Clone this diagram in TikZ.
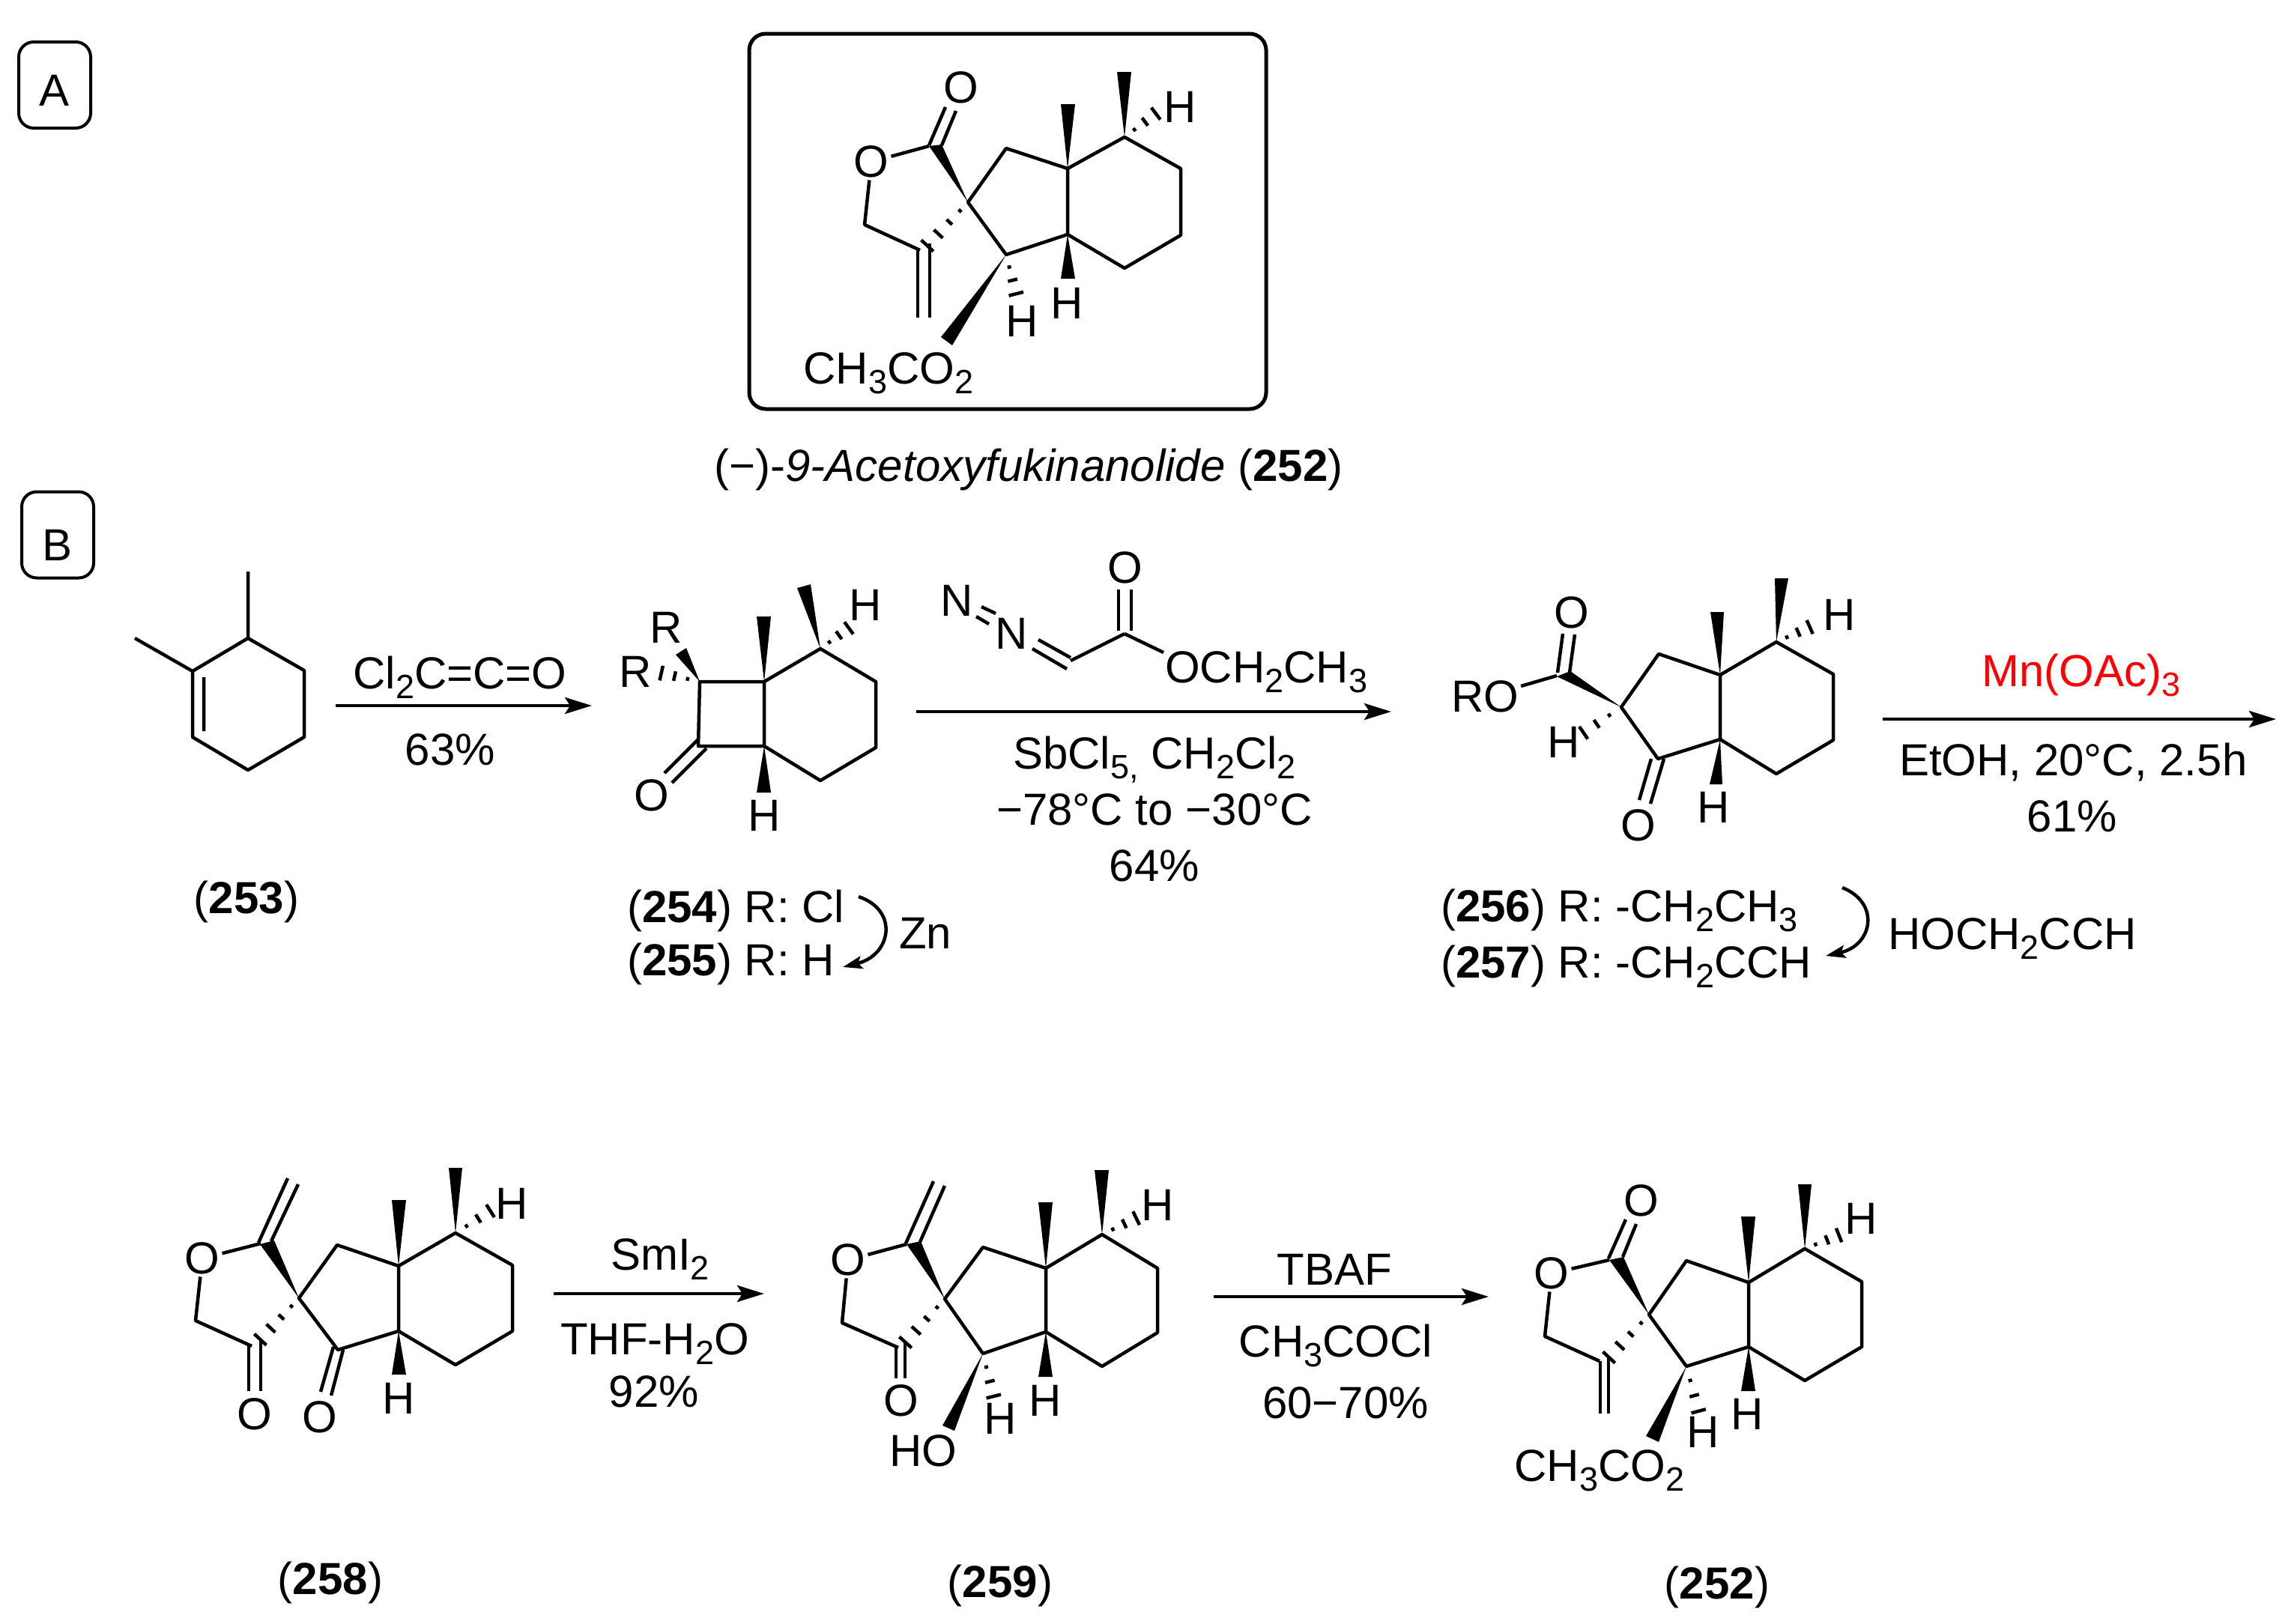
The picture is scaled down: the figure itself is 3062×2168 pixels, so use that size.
\documentclass[tikz,border=0pt]{standalone}
\usepackage{fontspec}
\setmainfont{Liberation Sans}
\usetikzlibrary{calc,arrows.meta}
\newcommand{\lo}[1]{\raisebox{-.22em}{\fontsize{45}{45}\selectfont #1}}
\newcommand{\wedgeb}[3]{\fill[black] (#1) -- (#2) -- (#3) -- cycle;}
\newcommand{\hashf}[2]{\foreach \t/\w in {.18/2.5,.42/5,.67/8,.92/11}{\coordinate (hc) at ($(#1)!\t!(#2)$); \draw[hashline] ($(hc)!\w pt!90:(#2)$) -- ($(hc)!\w pt!-90:(#2)$);}}
\newcommand{\hasht}[2]{\foreach \t/\w in {.3/2.5,.62/6.5,.95/10}{\coordinate (hc) at ($(#1)!\t!(#2)$); \draw[hashline] ($(hc)!\w pt!90:(#2)$) -- ($(hc)!\w pt!-90:(#2)$);}}
\tikzset{
 bond/.style={line width=4.5pt,line join=round,line cap=butt},
 hashline/.style={line width=4.5pt,line cap=butt},
 rxn/.style={line width=4.5pt,-{Stealth[length=36pt,width=22pt,inset=7pt]}},
 curv/.style={line width=4.5pt,-{Stealth[length=26pt,width=17pt,inset=5pt]}},
 atom/.style={inner sep=3pt,anchor=center,font=\fontsize{60}{66}\selectfont},
 txt/.style={inner sep=0pt,anchor=base,font=\fontsize{60}{66}\selectfont},
 tag/.style={draw,line width=4pt,rounded corners=20pt,minimum width=96pt,minimum height=115pt,inner sep=0pt,font=\fontsize{60}{66}\selectfont}
}
\begin{document}
\begin{tikzpicture}[x=1pt,y=-1pt]
\useasboundingbox (0,0) rectangle (3062,2168);
\fill[white] (0,0) rectangle (3062,2168);
% Panel tags
\node[tag] (tagA) at (73,113.5) {\raisebox{-27.5pt}[0pt][0pt]{A}};
\node[tag] (tagB) at (77,714) {\raisebox{-34pt}[0pt][0pt]{B}};
\coordinate (frameNW) at (1000,45);
\coordinate (frameSE) at (1690,546);
\draw[line width=5pt,rounded corners=22pt] (frameNW) rectangle (frameSE);
\node[txt] (title252) at (1373,642) {(−)-\textit{9-Acetoxyfukinanolide} (\textbf{252})};

% ---- 252 in frame
\coordinate (a1) at (1425,225); \coordinate (a2) at (1425,313); \coordinate (a3) at (1501,183);
\coordinate (a4) at (1576,225); \coordinate (a5) at (1576,314); \coordinate (a6) at (1501,358);
\coordinate (a7) at (1343,198); \coordinate (a8) at (1292,270); \coordinate (a9) at (1343,340);
\coordinate (a10) at (1240,195); \coordinate (a11) at (1154,300); \coordinate (a12) at (1228,334);
\node[atom] (aO1) at (1163,216) {O}; \node[atom] (aO2) at (1283,117) {O};
\node[atom] (aH1) at (1575,143) {H}; \node[atom] (aH2) at (1424,405) {H}; \node[atom] (aH3) at (1364,429) {H};
\node[txt] (aAc) at (1186,512) {CH\lo{3}CO\lo{2}};
\draw[bond] (a1)--(a3)--(a4)--(a5)--(a6)--(a2)--(a1) (a2)--(a9)--(a8)--(a7)--(a1);
\draw[bond] (aO1)--(a10); \draw[bond] (aO1)--(a11)--(a12);
\draw[bond] (1240,194)--(1262,143) (1257,194)--(1276,148);
\draw[bond] (1225,333)--(1225,424) (1241,325)--(1241,424);
\wedgeb{a8}{1240,195}{1257,193}
\wedgeb{a1}{1416,139}{1435,139}
\wedgeb{a3}{1491,96}{1510,96}
\wedgeb{a2}{1416,372}{1435,372}
\wedgeb{a9}{1256,450}{1271,461}
\hashf{a8}{1233,333}
\hasht{a3}{1545,150}
\hasht{a9}{1357,395}

% ---- 253
\coordinate (b1) at (331,852); \coordinate (b2) at (406,895); \coordinate (b3) at (406,984);
\coordinate (b4) at (331,1028); \coordinate (b5) at (257,984); \coordinate (b6) at (257,896);
\coordinate (b7) at (331,763); \coordinate (b8) at (180,852);
\coordinate (b9) at (272,904); \coordinate (b10) at (272,976);
\draw[bond] (b1)--(b2)--(b3)--(b4)--(b5)--(b6)--cycle (b1)--(b7) (b6)--(b8) (b9)--(b10);
\node[txt] (n253) at (329,1219) {(\textbf{253})};

% arrow 1
\coordinate (r1s) at (448,942); \coordinate (r1e) at (790,942);
\draw[rxn] (r1s)--(r1e);
\node[txt] (r1t) at (614,919) {Cl\lo{2}C=C=O};
\node[txt] (r1b) at (601,1021) {63\%};

% ---- 254
\coordinate (c1) at (934,910); \coordinate (c2) at (1020,910); \coordinate (c3) at (1020,996); \coordinate (c4) at (932,996);
\coordinate (c5) at (1095,866); \coordinate (c6) at (1169,910); \coordinate (c7) at (1169,998); \coordinate (c8) at (1095,1042);
\node[atom] (cR1) at (889,838) {R}; \node[atom] (cR2) at (848,897) {R};
\node[atom] (cH1) at (1155,808) {H}; \node[atom] (cH2) at (1020,1089) {H}; \node[atom] (cO) at (870,1062) {O};
\draw[bond] (c1)--(c2)--(c3)--(c4)--cycle (c2)--(c5)--(c6)--(c7)--(c8)--(c3);
\draw[bond] (932,987)--(887,1032) (943,999)--(897,1045);
\wedgeb{c2}{1010,823}{1029,823}
\wedgeb{c5}{1064,785}{1082,780}
\wedgeb{c3}{1010,1058}{1029,1058}
\wedgeb{c1}{902,874}{916,865}
\hasht{c5}{1135,837}
\hasht{c1}{880,898}
\node[txt,anchor=base west] (n254) at (837,1231) {(\textbf{254}) R: Cl};
\node[txt,anchor=base west] (n255) at (837,1302) {(\textbf{255}) R: H};
\coordinate (z1s) at (1146,1197); \coordinate (z1e) at (1125,1291);
\draw[curv] (z1s) .. controls (1200,1215) and (1190,1275) .. (z1e);
\node[txt] (zn) at (1235,1266) {Zn};

% arrow 2
\coordinate (r2s) at (1223,950); \coordinate (r2e) at (1857,950);
\draw[rxn] (r2s)--(r2e);
\node[atom] (dN1) at (1277,802) {N}; \node[atom] (dN2) at (1350,846) {N};
\coordinate (d1) at (1429,882); \coordinate (d2) at (1501,846);
\node[atom] (dO) at (1502,758) {O};
\node[txt,anchor=base west] (dOEt) at (1555,911) {OCH\lo{2}CH\lo{3}};
\draw[bond] (1310,810)--(1329,819) (1303,823)--(1320,833);
\draw[bond] (1386,854)--(1429,878) (1378,866)--(1424,893);
\draw[bond] (d1)--(d2);
\draw[bond] (1493,787)--(1493,842) (1510,787)--(1510,842);
\draw[bond] (d2)--(1553,871);
\node[txt] (r2a) at (1541,1026) {SbCl\lo{5,} CH\lo{2}Cl\lo{2}};
\node[txt] (r2b) at (1541,1101) {−78°C to −30°C};
\node[txt] (r2c) at (1541,1176) {64\%};

% ---- 256
\coordinate (e1) at (2296,901); \coordinate (e2) at (2296,987); \coordinate (e3) at (2371,857);
\coordinate (e4) at (2447,900); \coordinate (e5) at (2447,988); \coordinate (e6) at (2371,1033);
\coordinate (e7) at (2214,873); \coordinate (e8) at (2164,944); \coordinate (e9) at (2213,1013);
\coordinate (e10) at (2078,902);
\node[atom] (eRO) at (1982,930) {RO}; \node[atom] (eO1) at (2098,818) {O}; \node[atom] (eO2) at (2187,1102) {O};
\node[atom] (eH1) at (2455,821) {H}; \node[atom] (eH2) at (2287,1078) {H}; \node[atom] (eH3) at (2087,991) {H};
\draw[bond] (e1)--(e3)--(e4)--(e5)--(e6)--(e2)--(e1) (e2)--(e9)--(e8)--(e7)--(e1);
\draw[bond] (eRO)--(e10);
\draw[bond] (2079,898)--(2086,846) (2095,898)--(2102,847);
\draw[bond] (2204,1013)--(2188,1068) (2221,1013)--(2203,1073);
\wedgeb{e8}{2078,903}{2096,896}
\wedgeb{e1}{2283,817}{2301,817}
\wedgeb{e3}{2369,772}{2387,772}
\wedgeb{e2}{2282,1047}{2299,1047}
\hasht{e8}{2111,980}
\hasht{e3}{2418,836}
\node[txt,anchor=base west] (n256) at (1923,1230) {(\textbf{256}) R: -CH\lo{2}CH\lo{3}};
\node[txt,anchor=base west] (n257) at (1923,1305) {(\textbf{257}) R: -CH\lo{2}CCH};
\coordinate (z2s) at (2459,1185); \coordinate (z2e) at (2437,1276);
\draw[curv] (z2s) .. controls (2510,1205) and (2500,1262) .. (z2e);
\node[txt,anchor=base west] (hoch) at (2520,1267) {HOCH\lo{2}CCH};

% arrow 3
\coordinate (r3s) at (2513,960); \coordinate (r3e) at (3038,960);
\draw[rxn] (r3s)--(r3e);
\node[txt,red,anchor=base west] (r3a) at (2645,916) {Mn(OAc)\lo{3}};
\node[txt,anchor=base west] (r3b) at (2535,1035) {EtOH, 20°C, 2.5h};
\node[txt] (r3c) at (2766,1110) {61\%};

% ---- 258
\coordinate (f1) at (532,1690); \coordinate (f2) at (532,1777); \coordinate (f3) at (608,1646);
\coordinate (f4) at (684,1689); \coordinate (f5) at (684,1777); \coordinate (f6) at (608,1822);
\coordinate (f7) at (450,1662); \coordinate (f8) at (399,1733); \coordinate (f9) at (451,1802);
\coordinate (f10) at (348,1660); \coordinate (f11) at (261,1763); \coordinate (f12) at (336,1797);
\node[atom] (fO1) at (270,1680) {O}; \node[atom] (fO2) at (340,1888) {O}; \node[atom] (fO3) at (427,1892) {O};
\node[atom] (fH1) at (683,1607) {H}; \node[atom] (fH2) at (532,1867) {H};
\draw[bond] (f1)--(f3)--(f4)--(f5)--(f6)--(f2)--(f1) (f2)--(f9)--(f8)--(f7)--(f1);
\draw[bond] (fO1)--(f10); \draw[bond] (fO1)--(f11)--(f12);
\draw[bond] (345,1659)--(384,1573) (362,1657)--(398,1581);
\draw[bond] (332,1797)--(332,1857) (348,1788)--(348,1857);
\draw[bond] (445,1798)--(428,1858) (458,1802)--(442,1863);
\wedgeb{f8}{347,1661}{366,1656}
\wedgeb{f1}{523,1602}{542,1602}
\wedgeb{f3}{599,1559}{617,1559}
\wedgeb{f2}{523,1835}{542,1835}
\hashf{f8}{343,1793}
\hasht{f3}{657,1615}
\node[txt] (n258) at (441,2128) {(\textbf{258})};

% arrow 4
\coordinate (r4s) at (739,1727); \coordinate (r4e) at (1020,1727);
\draw[rxn] (r4s)--(r4e);
\node[txt] (r4a) at (881,1695) {SmI\lo{2}};
\node[txt] (r4b) at (874,1808) {THF-H\lo{2}O};
\node[txt] (r4c) at (873,1878) {92\%};

% ---- 259
\coordinate (g1) at (1396,1693); \coordinate (g2) at (1396,1778); \coordinate (g3) at (1471,1648);
\coordinate (g4) at (1545,1693); \coordinate (g5) at (1545,1779); \coordinate (g6) at (1471,1824);
\coordinate (g7) at (1312,1665); \coordinate (g8) at (1261,1734); \coordinate (g9) at (1312,1807);
\coordinate (g10) at (1210,1661); \coordinate (g11) at (1124,1766); \coordinate (g12) at (1199,1799);
\node[atom] (gO1) at (1132,1682) {O}; \node[atom] (gO2) at (1203,1870) {O};
\node[atom] (gOH) at (1232,1937) {HO};
\node[atom] (gH1) at (1545,1609) {H}; \node[atom] (gH2) at (1395,1870) {H}; \node[atom] (gH3) at (1335,1894) {H};
\draw[bond] (g1)--(g3)--(g4)--(g5)--(g6)--(g2)--(g1) (g2)--(g9)--(g8)--(g7)--(g1);
\draw[bond] (gO1)--(g10); \draw[bond] (gO1)--(g11)--(g12);
\draw[bond] (1209,1660)--(1246,1577) (1228,1658)--(1261,1583);
\draw[bond] (1196,1799)--(1196,1840) (1208,1793)--(1208,1840);
\wedgeb{g8}{1210,1661}{1229,1657}
\wedgeb{g1}{1386,1605}{1405,1605}
\wedgeb{g3}{1461,1562}{1480,1562}
\wedgeb{g2}{1386,1838}{1405,1838}
\wedgeb{g9}{1258,1903}{1274,1910}
\hashf{g8}{1204,1797}
\hasht{g3}{1519,1625}
\hasht{g9}{1327,1867}
\node[txt] (n259) at (1335,2132) {(\textbf{259})};

% arrow 5
\coordinate (r5s) at (1620,1731); \coordinate (r5e) at (1987,1731);
\draw[rxn] (r5s)--(r5e);
\node[txt] (r5a) at (1781,1715) {TBAF};
\node[txt] (r5b) at (1783,1811) {CH\lo{3}COCl};
\node[txt] (r5c) at (1796,1893) {60−70\%};

% ---- 252 final
\coordinate (h1) at (2334,1712); \coordinate (h2) at (2334,1798); \coordinate (h3) at (2409,1667);
\coordinate (h4) at (2485,1711); \coordinate (h5) at (2485,1798); \coordinate (h6) at (2409,1843);
\coordinate (h7) at (2251,1683); \coordinate (h8) at (2201,1755); \coordinate (h9) at (2251,1824);
\coordinate (h10) at (2148,1682); \coordinate (h11) at (2062,1784); \coordinate (h12) at (2135,1817);
\node[atom] (hO1) at (2071,1700) {O}; \node[atom] (hO2) at (2191,1603) {O};
\node[atom] (hH1) at (2484,1627) {H}; \node[atom] (hH2) at (2332,1888) {H}; \node[atom] (hH3) at (2273,1912) {H};
\node[txt] (hAc) at (2135,1977) {CH\lo{3}CO\lo{2}};
\draw[bond] (h1)--(h3)--(h4)--(h5)--(h6)--(h2)--(h1) (h2)--(h9)--(h8)--(h7)--(h1);
\draw[bond] (hO1)--(h10); \draw[bond] (hO1)--(h11)--(h12);
\draw[bond] (2147,1680)--(2170,1628) (2166,1678)--(2184,1634);
\draw[bond] (2136,1817)--(2136,1887) (2147,1812)--(2147,1887);
\wedgeb{h8}{2148,1682}{2167,1678}
\wedgeb{h1}{2324,1624}{2343,1624}
\wedgeb{h3}{2400,1581}{2418,1581}
\wedgeb{h2}{2324,1857}{2343,1857}
\wedgeb{h9}{2197,1917}{2214,1925}
\hashf{h8}{2143,1817}
\hasht{h3}{2457,1648}
\hasht{h9}{2268,1887}
\node[txt] (n252) at (2292,2134) {(\textbf{252})};
\end{tikzpicture}
\end{document}
